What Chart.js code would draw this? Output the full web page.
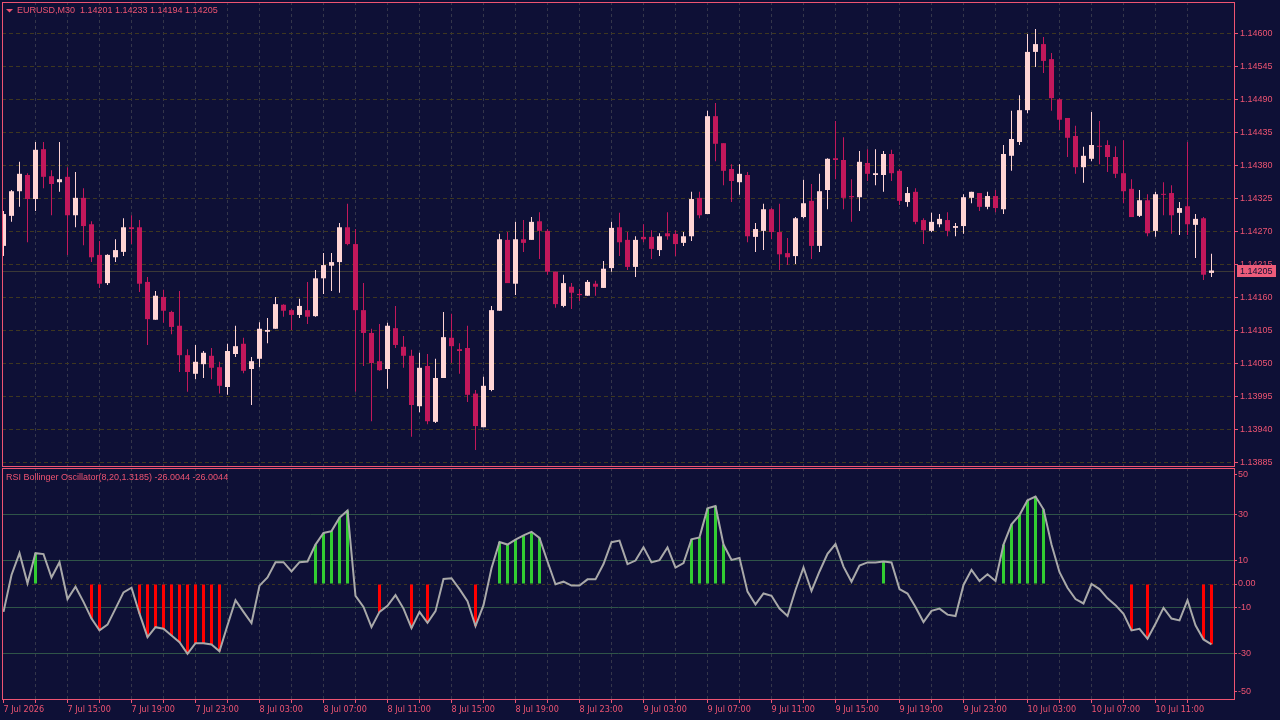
<!DOCTYPE html>
<html lang="en">
<head>
    <meta charset="UTF-8">
    <title>EURUSD,M30</title>
    <script src="https://cdn.jsdelivr.net/npm/chart.js"></script>
    <style>
        body { margin: 0; background: #0e1036; width: 1280px; height: 720px; overflow: hidden; position: relative; }
        canvas { position: absolute; left: 0; }
        #precio { top: 0; }
        #osc { top: 467px; }
    </style>
</head>
<body>
    <canvas id="precio" width="1280" height="467"></canvas>
    <canvas id="osc" width="1280" height="253"></canvas>
    <script>
        const timeLabels = ['7 Jul 2026', '7 Jul 15:00', '7 Jul 19:00', '7 Jul 23:00', '8 Jul 03:00', '8 Jul 07:00',
            '8 Jul 11:00', '8 Jul 15:00', '8 Jul 19:00', '8 Jul 23:00', '9 Jul 03:00', '9 Jul 07:00', '9 Jul 11:00',
            '9 Jul 15:00', '9 Jul 19:00', '9 Jul 23:00', '10 Jul 03:00', '10 Jul 07:00', '10 Jul 11:00'];

        const opens = [1.14246,1.14296,1.14337,1.14364,1.14324,1.14407,1.14362,1.14352,1.14361,1.14297,
            1.14326,1.14282,1.14231,1.14184,1.14227,1.14236,1.14277,1.14277,1.14186,1.14123,
            1.14161,1.14136,1.14113,1.14064,1.14033,1.14049,1.14063,1.14044,1.14011,1.14066,
            1.14083,1.14041,1.14058,1.14103,1.14108,1.14148,1.14139,1.14131,1.14139,1.14129,
            1.14192,1.14213,1.14219,1.14277,1.14249,1.14139,1.14101,1.14054,1.14041,1.14109,
            1.14078,1.14063,1.13979,1.14046,1.13953,1.14026,1.14093,1.14074,1.14076,1.14000,
            1.13944,1.14006,1.14138,1.14256,1.14183,1.14257,1.14256,1.14287,1.14271,1.14203,
            1.14146,1.14178,1.14166,1.14163,1.14183,1.14176,1.14209,1.14277,1.14256,1.14211,
            1.14261,1.14261,1.14239,1.14267,1.14266,1.14251,1.14262,1.14326,1.14299,1.14462,
            1.14417,1.14374,1.14352,1.14364,1.14261,1.14271,1.14307,1.14269,1.14234,1.14229,
            1.14294,1.14321,1.14246,1.14339,1.14392,1.14389,1.14329,1.14327,1.14384,1.14364,
            1.14364,1.14399,1.14371,1.14319,1.14336,1.14289,1.14271,1.14282,1.14289,1.14276,
            1.14279,1.14326,1.14334,1.14311,1.14329,1.14307,1.14396,1.14419,1.14472,1.14569,
            1.14582,1.14557,1.14490,1.14459,1.14429,1.14377,1.14391,1.14412,1.14414,1.14394,
            1.14367,1.14341,1.14296,1.14322,1.14271,1.14332,1.14334,1.14301,1.14312,1.14281,
            1.14292,1.14201];
        const highs = [1.14304,1.14339,1.14386,1.14367,1.14419,1.14419,1.14372,1.14419,1.14377,1.14369,
            1.14342,1.14287,1.14254,1.14232,1.14257,1.14292,1.14297,1.14289,1.14194,1.14171,
            1.14173,1.14138,1.14171,1.14074,1.14081,1.14071,1.14076,1.14053,1.14083,1.14113,
            1.14093,1.14061,1.14119,1.14126,1.14161,1.14149,1.14141,1.14158,1.14186,1.14206,
            1.14234,1.14234,1.14284,1.14316,1.14274,1.14184,1.14108,1.14116,1.14118,1.14146,
            1.14096,1.14073,1.14068,1.14066,1.14058,1.14136,1.14133,1.14084,1.14113,1.14006,
            1.14028,1.14146,1.14266,1.14269,1.14286,1.14289,1.14294,1.14302,1.14274,1.14203,
            1.14198,1.14184,1.14174,1.14189,1.14188,1.14221,1.14286,1.14301,1.14269,1.14262,
            1.14282,1.14272,1.14267,1.14302,1.14272,1.14269,1.14336,1.14336,1.14471,1.14484,
            1.14417,1.14382,1.14382,1.14369,1.14284,1.14316,1.14309,1.14316,1.14259,1.14294,
            1.14356,1.14349,1.14366,1.14392,1.14454,1.14427,1.14357,1.14404,1.14407,1.14407,
            1.14404,1.14406,1.14374,1.14344,1.14342,1.14292,1.14301,1.14299,1.14302,1.14284,
            1.14332,1.14336,1.14334,1.14336,1.14339,1.14414,1.14471,1.14497,1.14599,1.14607,
            1.14594,1.14567,1.14492,1.14459,1.14446,1.14411,1.14469,1.14454,1.14422,1.14412,
            1.14422,1.14357,1.14339,1.14332,1.14336,1.14352,1.14347,1.14319,1.14419,1.14299,
            1.14294,1.14233];
        const lows = [1.14229,1.14286,1.14311,1.14252,1.14304,1.14342,1.14297,1.14336,1.14231,1.14277,
            1.14247,1.14219,1.14176,1.14181,1.14219,1.14229,1.14249,1.14169,1.14081,1.14123,
            1.14118,1.14099,1.14036,1.14003,1.14024,1.14026,1.14024,1.14000,1.13998,1.14061,
            1.14034,1.13981,1.14044,1.14084,1.14108,1.14128,1.14106,1.14126,1.14116,1.14128,
            1.14166,1.14171,1.14168,1.14247,1.14003,1.14046,1.13954,1.14038,1.14008,1.14076,
            1.14043,1.13928,1.13969,1.13949,1.13951,1.14026,1.14051,1.14033,1.13986,1.13906,
            1.13944,1.14004,1.14138,1.14184,1.14164,1.14236,1.14256,1.14224,1.14198,1.14143,
            1.14144,1.14141,1.14154,1.14163,1.14163,1.14176,1.14203,1.14229,1.14206,1.14194,
            1.14252,1.14224,1.14229,1.14256,1.14229,1.14246,1.14254,1.14292,1.14299,1.14387,
            1.14347,1.14319,1.14331,1.14252,1.14236,1.14239,1.14257,1.14206,1.14214,1.14216,
            1.14292,1.14224,1.14236,1.14307,1.14357,1.14307,1.14286,1.14304,1.14354,1.14347,
            1.14336,1.14354,1.14314,1.14311,1.14282,1.14249,1.14269,1.14277,1.14262,1.14262,
            1.14266,1.14317,1.14304,1.14307,1.14302,1.14299,1.14371,1.14414,1.14467,1.14544,
            1.14534,1.14471,1.14439,1.14394,1.14366,1.14351,1.14387,1.14382,1.14369,1.14359,
            1.14317,1.14294,1.14294,1.14262,1.14261,1.14297,1.14266,1.14264,1.14264,1.14226,
            1.14189,1.14194];
        const closes = [1.14299,1.14337,1.14366,1.14324,1.14406,1.14361,1.14349,1.14357,1.14297,1.14326,
            1.14279,1.14227,1.14183,1.14231,1.14239,1.14277,1.14274,1.14183,1.14124,1.14163,
            1.14138,1.14111,1.14064,1.14036,1.14053,1.14068,1.14043,1.14013,1.14071,1.14079,
            1.14038,1.14054,1.14108,1.14106,1.14149,1.14138,1.14131,1.14146,1.14128,1.14192,
            1.14214,1.14219,1.14277,1.14249,1.14139,1.14101,1.14051,1.14039,1.14113,1.14081,
            1.14063,1.13981,1.14043,1.13954,1.14026,1.14094,1.14079,1.14071,1.13998,1.13946,
            1.14013,1.14139,1.14257,1.14184,1.14257,1.14251,1.14286,1.14271,1.14203,1.14149,
            1.14184,1.14168,1.14164,1.14186,1.14178,1.14208,1.14276,1.14252,1.14211,1.14256,
            1.14257,1.14241,1.14262,1.14262,1.14249,1.14262,1.14324,1.14297,1.14462,1.14416,
            1.14371,1.14354,1.14366,1.14262,1.14274,1.14307,1.14269,1.14232,1.14227,1.14292,
            1.14317,1.14246,1.14337,1.14391,1.14389,1.14326,1.14327,1.14386,1.14366,1.14367,
            1.14399,1.14367,1.14321,1.14334,1.14286,1.14272,1.14286,1.14291,1.14271,1.14279,
            1.14327,1.14336,1.14311,1.14329,1.14309,1.14399,1.14424,1.14472,1.14569,1.14582,
            1.14554,1.14492,1.14456,1.14426,1.14377,1.14396,1.14414,1.14411,1.14394,1.14366,
            1.14337,1.14294,1.14322,1.14267,1.14332,1.14331,1.14297,1.14309,1.14282,1.14291,
            1.14198,1.14205];

        const oscValues = [-12.0,3.9,13.3,0.3,13.3,12.9,2.8,9.4,-6.5,-1.2,
            -7.7,-14.9,-20.0,-17.5,-10.6,-3.6,-1.6,-12.8,-22.9,-18.6,
            -19.3,-22.2,-25.1,-30.1,-25.5,-25.5,-26.1,-29.0,-17.8,-7.0,
            -12.0,-16.8,-0.7,2.8,9.4,9.4,5.4,9.4,9.7,17.0,
            22.0,22.8,28.6,31.7,-5.1,-9.9,-18.6,-12.0,-9.4,-4.8,
            -10.6,-19.0,-12.0,-16.7,-11.7,2.2,2.5,-2.2,-7.4,-18.1,
            -9.1,6.8,18.1,17.0,19.1,21.0,22.5,19.9,9.7,-0.1,
            1.0,-0.7,-0.7,2.0,2.0,8.6,18.0,18.7,8.6,10.1,
            15.8,9.3,10.3,15.8,7.1,9.0,19.3,20.1,32.6,33.6,
            17.0,10.4,11.2,-3.3,-8.8,-4.1,-5.1,-10.6,-13.8,-2.6,
            7.1,-3.0,5.4,13.0,17.2,7.5,1.0,8.0,9.3,9.3,
            9.7,9.3,-2.2,-4.1,-9.9,-16.4,-11.6,-10.6,-13.2,-13.8,
            -0.4,6.1,1.3,4.2,1.3,17.0,25.7,29.7,36.1,37.7,
            32.2,17.0,5.1,-1.6,-6.5,-8.4,0.0,-2.2,-6.2,-9.1,
            -12.8,-20.0,-19.3,-23.6,-17.1,-10.3,-14.9,-15.7,-7.0,-17.8,
            -23.9,-26.0];
        const greenIdx = [4, 39, 40, 41, 42, 43, 62, 63, 64, 65, 66, 67, 86, 87, 88, 89, 90, 110, 125, 126, 127, 128, 129, 130];
        const redIdx = [11, 12, 17, 18, 19, 20, 21, 22, 23, 24, 25, 26, 27, 47, 51, 53, 59, 141, 143, 150, 151];

        const priceTicks = [1.14600, 1.14545, 1.14490, 1.14435, 1.14380, 1.14325, 1.14270, 1.14215,
            1.14160, 1.14105, 1.14050, 1.13995, 1.13940, 1.13885];
        const oscTicks = [47, 30, 10, 0, -10, -30, -46.5];
        const oscTickLabels = ['50', '30', '10', '0.00', '-10', '-30', '-50'];
        const oscTitle = 'RSI Bollinger Oscillator(8,20,1.3185) -26.0044 -26.0044';

        const rosa = '#ee5472';
        const alcista = '#ffd5d5';
        const bajista = '#c2185b';
        const rejillaH = '#3e3720';
        const rejillaV = '#34364a';
        const nivel = '#2f5448';
        const fuenteEje = { family: '"Liberation Sans", Arial, sans-serif', size: 9 };
        const fuenteTiempo = { family: '"DejaVu Sans Condensed", "Liberation Sans Narrow", "Liberation Sans", sans-serif', size: 9 };

        const xMin = -0.1875;
        const xMax = 153.9375;
        const pasos = [];
        for (let v = 0; v <= 148; v += 4) pasos.push(v);

        const marco = {
            id: 'marco',
            afterDraw(chart) {
                const { ctx, chartArea: a } = chart;
                ctx.save();
                ctx.strokeStyle = rosa;
                ctx.lineWidth = 1;
                ctx.strokeRect(a.left + 0.5, a.top + 0.5, a.right - a.left - 1, a.bottom - a.top - 1);
                ctx.restore();
            }
        };

        const cabecera = {
            id: 'cabecera',
            afterDraw(chart, args, opts) {
                const ctx = chart.ctx;
                ctx.save();
                ctx.fillStyle = rosa;
                ctx.font = '9px "Liberation Sans", Arial, sans-serif';
                ctx.textBaseline = 'middle';
                if (opts.triangle) {
                    ctx.beginPath();
                    ctx.moveTo(6, 9);
                    ctx.lineTo(13, 9);
                    ctx.lineTo(9.5, 12.5);
                    ctx.closePath();
                    ctx.fill();
                }
                ctx.fillText(opts.text, opts.x, opts.y);
                ctx.restore();
            }
        };

        // linea del ultimo precio y su etiqueta en el eje
        const ultimoPrecio = {
            id: 'ultimoPrecio',
            beforeDatasetsDraw(chart) {
                const { ctx, chartArea: a, scales } = chart;
                const y = Math.round(scales.y.getPixelForValue(closes[closes.length - 1])) + 0.5;
                ctx.save();
                ctx.strokeStyle = '#3b3937';
                ctx.lineWidth = 1;
                ctx.beginPath();
                ctx.moveTo(a.left + 1, y);
                ctx.lineTo(a.right - 1, y);
                ctx.stroke();
                ctx.restore();
            },
            afterDraw(chart) {
                const { ctx, scales } = chart;
                const c = closes[closes.length - 1];
                const y = Math.round(scales.y.getPixelForValue(c));
                ctx.save();
                ctx.fillStyle = '#ec5c7a';
                ctx.fillRect(1237, y - 6, 39, 12);
                ctx.fillStyle = '#0e1036';
                ctx.font = '9px "Liberation Sans", Arial, sans-serif';
                ctx.textBaseline = 'middle';
                ctx.fillText(c.toFixed(5), 1240, y + 0.5);
                ctx.restore();
            }
        };

        function ejeX(conEtiquetas) {
            return {
                type: 'linear',
                min: xMin,
                max: xMax,
                offset: false,
                afterBuildTicks: s => { s.ticks = pasos.map(v => ({ value: v })); },
                afterFit: s => { s.height = conEtiquetas ? 20 : 0; s.paddingLeft = 0; s.paddingRight = 0; },
                ticks: {
                    display: conEtiquetas,
                    autoSkip: false,
                    maxRotation: 0,
                    minRotation: 0,
                    align: 'start',
                    padding: 1,
                    color: rosa,
                    font: fuenteTiempo,
                    callback: v => (v % 8 === 0 ? timeLabels[v / 8] : '')
                },
                grid: {
                    offset: false,
                    color: c => (c.tick && c.tick.value === 0 ? 'rgba(0,0,0,0)' : rejillaV),
                    drawTicks: conEtiquetas,
                    tickLength: 3,
                    tickColor: rosa,
                    tickBorderDash: []
                },
                border: { display: false, dash: [3, 3] }
            };
        }

        const colores = opens.map((o, i) => (closes[i] >= o ? alcista : bajista));

        new Chart(document.getElementById('precio'), {
            type: 'bar',
            data: {
                datasets: [{
                    data: opens.map((o, i) => ({ x: i, y: [o, closes[i]] })),
                    backgroundColor: colores,
                    barThickness: 5,
                    minBarLength: 1,
                    grouped: false,
                    borderWidth: 0,
                    inflateAmount: 0
                }, {
                    data: opens.map((o, i) => ({ x: i, y: [lows[i], highs[i]] })),
                    backgroundColor: colores,
                    barThickness: 1,
                    grouped: false,
                    borderWidth: 0,
                    inflateAmount: 0
                }]
            },
            options: {
                responsive: false,
                animation: false,
                events: [],
                layout: { padding: { left: 2, top: 2, right: 0, bottom: 0 } },
                plugins: {
                    legend: { display: false },
                    tooltip: { enabled: false },
                    cabecera: {
                        triangle: true, x: 17, y: 11,
                        text: 'EURUSD,M30  ' + [opens, highs, lows, closes].map(a => a[a.length - 1].toFixed(5)).join(' ')
                    }
                },
                scales: {
                    x: ejeX(false),
                    y: {
                        position: 'right',
                        min: 1.138778,
                        max: 1.146521,
                        afterBuildTicks: s => { s.ticks = priceTicks.map(v => ({ value: v })); },
                        afterFit: s => { s.width = 45; s.paddingTop = 0; s.paddingBottom = 0; },
                        ticks: { color: rosa, font: fuenteEje, padding: 2, callback: v => v.toFixed(5) },
                        grid: { color: rejillaH, tickLength: 3, tickColor: rosa, tickBorderDash: [] },
                        border: { display: false, dash: [4, 3] }
                    }
                }
            },
            plugins: [ultimoPrecio, marco, cabecera]
        });

        new Chart(document.getElementById('osc'), {
            type: 'bar',
            data: {
                datasets: [{
                    type: 'line',
                    data: oscValues.map((v, i) => ({ x: i, y: v })),
                    borderColor: '#a9a9a9',
                    borderWidth: 2,
                    pointRadius: 0,
                    tension: 0
                }, {
                    data: greenIdx.map(i => ({ x: i, y: oscValues[i] })),
                    backgroundColor: '#32cd32',
                    barThickness: 3,
                    grouped: false,
                    borderWidth: 0,
                    inflateAmount: 0
                }, {
                    data: redIdx.map(i => ({ x: i, y: oscValues[i] })),
                    backgroundColor: '#ff0000',
                    barThickness: 3,
                    grouped: false,
                    borderWidth: 0,
                    inflateAmount: 0
                }]
            },
            options: {
                responsive: false,
                animation: false,
                events: [],
                layout: { padding: { left: 2, top: 1, right: 0, bottom: 0 } },
                plugins: {
                    legend: { display: false },
                    tooltip: { enabled: false },
                    cabecera: { triangle: false, x: 6, y: 10.5, text: oscTitle }
                },
                scales: {
                    x: ejeX(true),
                    y: {
                        position: 'right',
                        min: -50,
                        max: 50,
                        afterBuildTicks: s => { s.ticks = oscTicks.map(v => ({ value: v })); },
                        afterFit: s => { s.width = 45; s.paddingTop = 0; s.paddingBottom = 0; },
                        ticks: { color: rosa, font: fuenteEje, padding: 1, callback: (v, i) => oscTickLabels[i] },
                        grid: {
                            color: c => {
                                if (!c.tick) return nivel;
                                const v = c.tick.value;
                                if (v === 0) return rejillaH;
                                if (Math.abs(v) === 10 || Math.abs(v) === 30) return nivel;
                                return 'rgba(0,0,0,0)';
                            },
                            tickLength: 2,
                            tickColor: rosa,
                            tickBorderDash: []
                        },
                        border: { display: false, dash: c => (c.tick && c.tick.value === 0 ? [3, 3] : []) }
                    }
                }
            },
            plugins: [marco, cabecera]
        });
    </script>
</body>
</html>
